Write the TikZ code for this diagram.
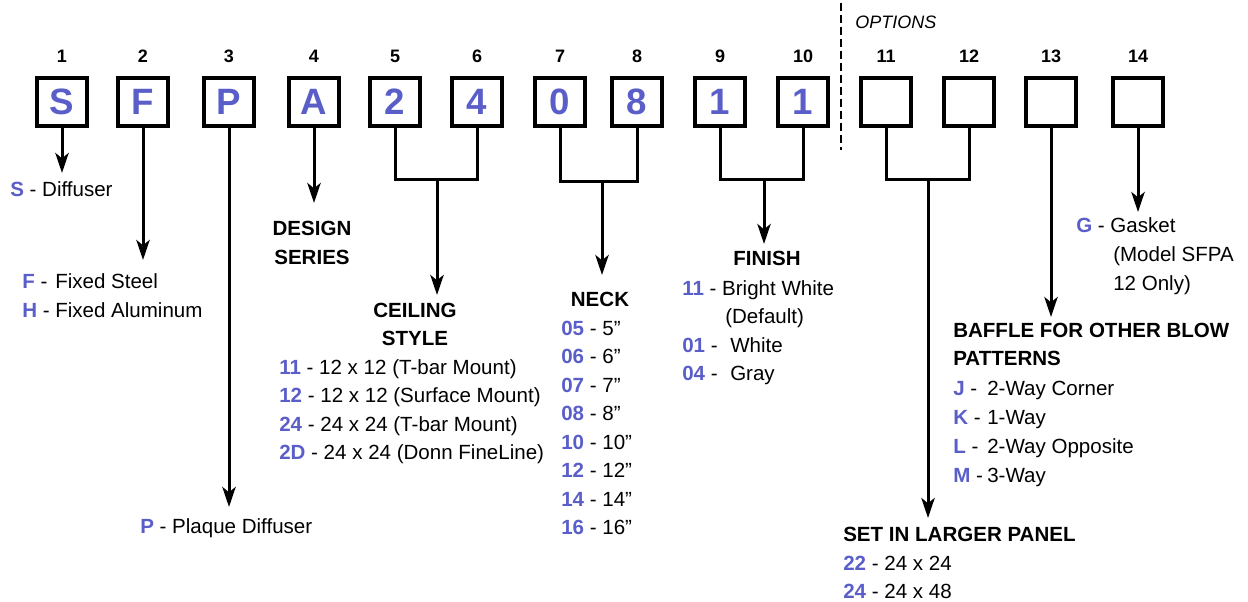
\documentclass[tikz,border=0pt]{standalone}
\usepackage{fontspec}
\setmainfont{Liberation Sans}
\usetikzlibrary{arrows.meta}
\definecolor{codeblue}{RGB}{90,94,200}
\newcommand{\cd}[1]{\textcolor{codeblue}{\bfseries #1}}
\newcommand{\cdl}[3]{\makebox[#1][l]{\cd{#2} -}#3}
\begin{document}
\begin{tikzpicture}[x=0.75pt,y=-0.75pt,
  box/.style={draw, line width=3.2pt, minimum width=37.3pt, minimum height=35.8pt, inner sep=0pt,
    font=\fontsize{27.5}{30}\selectfont\bfseries, text=codeblue},
  num/.style={anchor=base, inner sep=0pt, font=\fontsize{13.5}{16}\selectfont\bfseries},
  txt/.style={anchor=base west, inner sep=0pt, font=\fontsize{15.4}{18}\selectfont},
  hdr/.style={anchor=base, inner sep=0pt, font=\fontsize{15.4}{18}\selectfont\bfseries},
  hdrl/.style={anchor=base west, inner sep=0pt, font=\fontsize{15.4}{18}\selectfont\bfseries},
  conn/.style={line width=2.25pt},
  arr/.style={conn, -{Stealth[length=15pt, width=10pt, inset=4pt]}}]
\useasboundingbox (0,0) rectangle (1248,602);

% boxes and position numbers
\foreach \i/\x/\l in {1/62/S,2/143/F,3/229/P,4/314/A,5/395/2,6/477/4,7/560/0,8/637/8,9/720/1,10/803/1,11/886/{},12/969/{},13/1051/{},14/1138/{}}{
  \node[box] (b\i) at (\x,102) {\l};
  \node[num] (n\i) at (\x,63) {\i};
}

% options separator
\coordinate (d1) at (841,3);
\coordinate (d2) at (841,150);
\draw[line width=1.5pt, dash pattern=on 6pt off 3pt] (d1) -- (d2);
\node[anchor=base west, inner sep=0pt, font=\fontsize{13.5}{16}\selectfont\itshape] (opt) at (855,29) {OPTIONS};

% tip coordinates and bracket joints
\coordinate (t1) at (62,173);
\coordinate (t2) at (143,260);
\coordinate (t3) at (229,507);
\coordinate (t4) at (314,203);
\coordinate (m56) at (437,180);
\coordinate (t56) at (437,295);
\coordinate (m78) at (602,182);
\coordinate (t78) at (602,275);
\coordinate (m910) at (764,180);
\coordinate (t910) at (764,244);
\coordinate (m1112) at (928,180);
\coordinate (t1112) at (928,518);
\coordinate (t13) at (1051,317);
\coordinate (t14) at (1138,212);

% connectors
\draw[arr] (b1.south) -- (t1);
\draw[arr] (b2.south) -- (t2);
\draw[arr] (b3.south) -- (t3);
\draw[arr] (b4.south) -- (t4);
\draw[conn] (b5.south) |- (m56) -| (b6.south);
\draw[arr] (m56) -- (t56);
\draw[conn] (b7.south) |- (m78) -| (b8.south);
\draw[arr] (m78) -- (t78);
\draw[conn] (b9.south) |- (m910) -| (b10.south);
\draw[arr] (m910) -- (t910);
\draw[conn] (b11.south) |- (m1112) -| (b12.south);
\draw[arr] (m1112) -- (t1112);
\draw[arr] (b13.south) -- (t13);
\draw[arr] (b14.south) -- (t14);

% 1
\node[txt] (s1) at (10,197) {\cd{S} - Diffuser};
% 2
\node[txt] (f1) at (22,288) {\cdl{24.75pt}{F}{Fixed Steel}};
\node[txt] (f2) at (22,317) {\cdl{24.75pt}{H}{Fixed Aluminum}};
% 3
\node[txt] (p1) at (140,533) {\cd{P} - Plaque Diffuser};
% 4
\node[hdr] (ds1) at (312,235) {DESIGN};
\node[hdr] (ds2) at (312,264) {SERIES};
% 5-6
\node[hdr] (cs1) at (415,317) {CEILING};
\node[hdr] (cs2) at (415,345) {STYLE};
\node[txt] (c1) at (279,374) {\cd{11} - 12 x 12 (T-bar Mount)};
\node[txt] (c2) at (279,402.5) {\cd{12} - 12 x 12 (Surface Mount)};
\node[txt] (c3) at (279,431) {\cd{24} - 24 x 24 (T-bar Mount)};
\node[txt] (c4) at (279,459.5) {\cd{2D} - 24 x 24 (Donn FineLine)};
% 7-8
\node[hdr] (nk) at (600,306) {NECK};
\node[txt] (k1) at (561,335) {\cd{05} - 5”};
\node[txt] (k2) at (561,363.5) {\cd{06} - 6”};
\node[txt] (k3) at (561,392) {\cd{07} - 7”};
\node[txt] (k4) at (561,420.5) {\cd{08} - 8”};
\node[txt] (k5) at (561,449) {\cd{10} - 10”};
\node[txt] (k6) at (561,477.5) {\cd{12} - 12”};
\node[txt] (k7) at (561,506) {\cd{14} - 14”};
\node[txt] (k8) at (561,534.5) {\cd{16} - 16”};
% 9-10
\node[hdr] (fn) at (767,266) {FINISH};
\node[txt] (h1) at (682,295) {\cd{11} - Bright White};
\node[txt] (h2) at (725,323.5) {(Default)};
\node[txt] (h3) at (682,352) {\cdl{36pt}{01}{White}};
\node[txt] (h4) at (682,380.5) {\cdl{36pt}{04}{Gray}};
% 11-12
\node[hdrl] (sp) at (843,541) {SET IN LARGER PANEL};
\node[txt] (sp1) at (843,570) {\cd{22} - 24 x 24};
\node[txt] (sp2) at (843,598) {\cd{24} - 24 x 48};
% 13
\node[hdrl] (bf1) at (953,337) {BAFFLE FOR OTHER BLOW};
\node[hdrl] (bf2) at (953,365) {PATTERNS};
\node[txt] (j1) at (953,395) {\cdl{25.5pt}{J}{2-Way Corner}};
\node[txt] (j2) at (953,424) {\cdl{25.5pt}{K}{1-Way}};
\node[txt] (j3) at (953,453) {\cdl{25.5pt}{L}{2-Way Opposite}};
\node[txt] (j4) at (953,482) {\cdl{25.5pt}{M}{3-Way}};
% 14
\node[txt] (g1) at (1076,233) {\cd{G} - Gasket};
\node[txt] (g2) at (1113,262) {(Model SFPA};
\node[txt] (g3) at (1113,290) {12 Only)};
\end{tikzpicture}
\end{document}
